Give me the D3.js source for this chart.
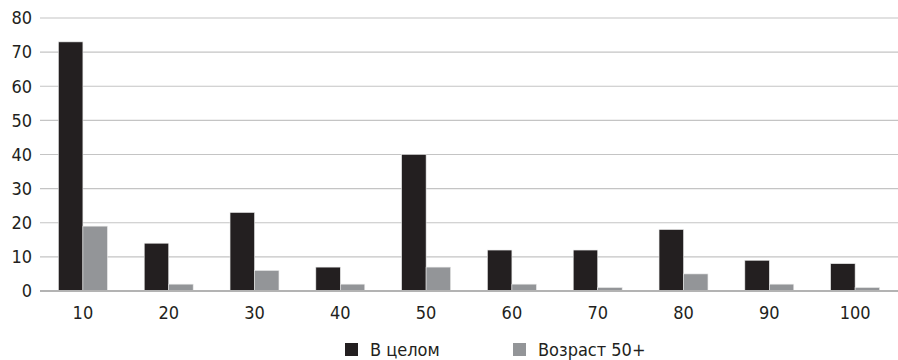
<!DOCTYPE html>
<html>
<head>
<meta charset="utf-8">
<script src="https://cdn.jsdelivr.net/npm/d3@7"></script>
<style>
body { margin: 0; background: #fff; }
text { font-family: "DejaVu Sans Condensed", "Liberation Sans Narrow", sans-serif; fill: #231f20; }
</style>
</head>
<body>
<div id="main"></div>
<script>
var categories = ["10", "20", "30", "40", "50", "60", "70", "80", "90", "100"];
var seriesNames = ["В целом", "Возраст 50+"];
var totalValues = [73, 14, 23, 7, 40, 12, 12, 18, 9, 8];
var olderValues = [19, 2, 6, 2, 7, 2, 1, 5, 2, 1];
var yTicks = [0, 10, 20, 30, 40, 50, 60, 70, 80];
var colors = ["#231f20", "#939598"];

var ctx = {
    w: 898,
    h: 360,
    margin: { top: 18, right: 0, bottom: 69, left: 40 },
};

var svg = d3.select("#main").append("svg")
    .attr("width", ctx.w)
    .attr("height", ctx.h);

var width = ctx.w - ctx.margin.left - ctx.margin.right;
var height = ctx.h - ctx.margin.top - ctx.margin.bottom;

var g = svg.append("g")
    .attr("transform", "translate(" + ctx.margin.left + "," + ctx.margin.top + ")");

var x = d3.scaleBand().domain(categories).range([0, width]).paddingInner(0.43).paddingOuter(0.215);
var x1 = d3.scaleBand().domain(seriesNames).range([0, x.bandwidth()]);
var y = d3.scaleLinear().domain([0, 80]).range([height, 0]);

// gridlines
g.append("g").selectAll("line")
    .data(yTicks.filter(function (d) { return d > 0; }))
    .enter().append("line")
    .attr("x1", 0).attr("x2", width)
    .attr("y1", function (d) { return y(d); })
    .attr("y2", function (d) { return y(d); })
    .attr("stroke", "#c4c4c4")
    .attr("stroke-width", 1.2);

// y labels
g.append("g").selectAll("text")
    .data(yTicks)
    .enter().append("text")
    .attr("x", -8)
    .attr("y", function (d) { return y(d); })
    .attr("dy", "0.35em")
    .attr("text-anchor", "end")
    .attr("font-size", 18)
    .text(function (d) { return d; });

var rows = categories.map(function (c, i) {
    return { cat: c, vals: [totalValues[i], olderValues[i]] };
});

var groups = g.append("g").selectAll("g")
    .data(rows)
    .enter().append("g")
    .attr("transform", function (d) { return "translate(" + x(d.cat) + ",0)"; });

groups.selectAll("rect")
    .data(function (d) { return d.vals.map(function (v, j) { return { name: seriesNames[j], v: v, j: j }; }); })
    .enter().append("rect")
    .attr("x", function (d) { return x1(d.name); })
    .attr("y", function (d) { return y(d.v); })
    .attr("width", x1.bandwidth())
    .attr("height", function (d) { return height - y(d.v); })
    .attr("fill", function (d) { return colors[d.j]; })
    .attr("stroke", "#e6e6e6")
    .attr("stroke-width", 0.6);

// baseline
g.append("line")
    .attr("x1", 0).attr("x2", width)
    .attr("y1", height).attr("y2", height)
    .attr("stroke", "#b3b3b3")
    .attr("stroke-width", 2);

// x labels
g.append("g").selectAll("text")
    .data(categories)
    .enter().append("text")
    .attr("x", function (d) { return x(d) + x.bandwidth() / 2; })
    .attr("y", height + 28)
    .attr("text-anchor", "middle")
    .attr("font-size", 18)
    .text(function (d) { return d; });

// legend
var legendX = [345, 513];
var legend = svg.append("g").selectAll("g")
    .data(seriesNames)
    .enter().append("g")
    .attr("transform", function (d, i) { return "translate(" + legendX[i] + ",343)"; });
legend.append("rect")
    .attr("width", 13).attr("height", 13)
    .attr("fill", function (d, i) { return colors[i]; });
legend.append("text")
    .attr("x", 25).attr("y", 13)
    .attr("font-size", 18)
    .text(function (d) { return d; });
</script>
</body>
</html>
